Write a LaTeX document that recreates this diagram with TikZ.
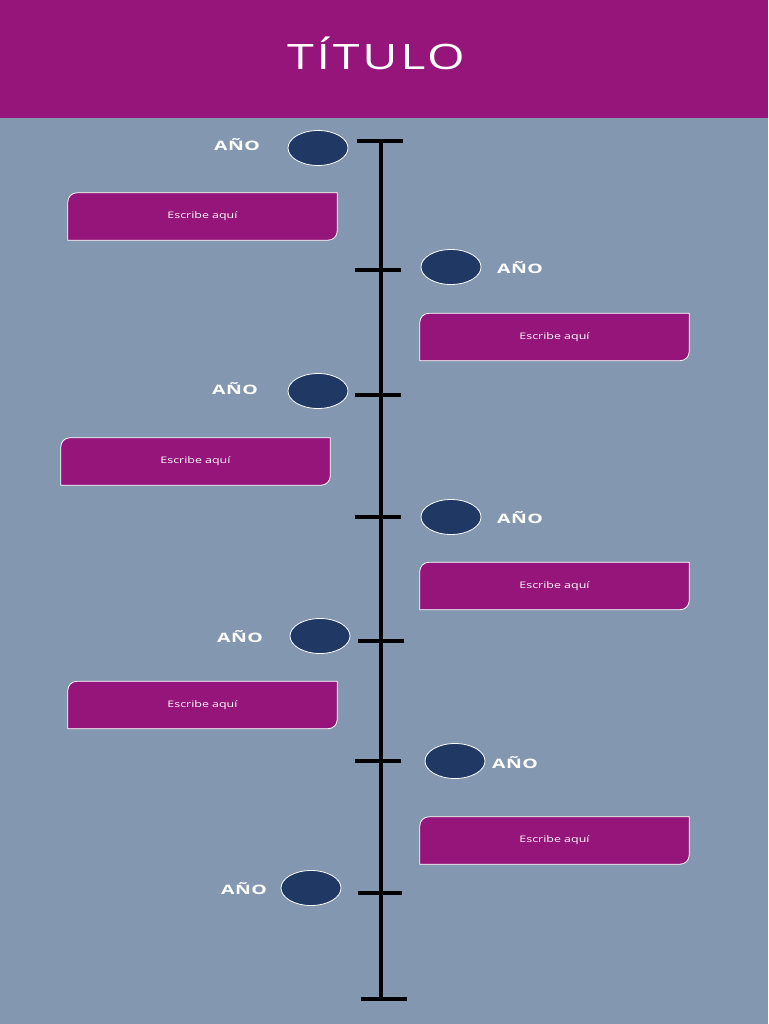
\documentclass[tikz,border=0pt]{standalone}
\usepackage{fontspec}
\setmainfont{Open Sans}
\usetikzlibrary{shapes.geometric,backgrounds}
\definecolor{magenta}{HTML}{95157A}
\definecolor{bluebg}{HTML}{8397B0}
\definecolor{navy}{HTML}{1F3864}
\tikzset{
  yearball/.style={ellipse,fill=navy,draw=white,line width=0.8pt,minimum width=60pt,minimum height=35pt,inner sep=0pt},
  yearlabel/.style={text=white,font=\fontsize{13}{15}\selectfont\bfseries\addfontfeature{FakeStretch=1.5,LetterSpace=3}},
  infobox/.style={minimum width=269pt,minimum height=47pt,inner sep=0pt,text=white,font=\fontsize{9}{10}\selectfont\addfontfeature{FakeStretch=1.38}},
  boxshape/.style={fill=magenta,draw=white,line width=0.8pt},
  axis/.style={line width=4pt,black},
  tick/.style={line width=3.5pt,black},
}
\newcommand{\boxpath}[1]{%
  \draw[boxshape] (#1.south west) -- ([yshift=-9pt]#1.north west) arc[start angle=180,end angle=90,radius=9pt] -- (#1.north east) -- ([yshift=9pt]#1.south east) arc[start angle=0,end angle=-90,radius=9pt] -- cycle;}
\begin{document}
\begin{tikzpicture}[x=1pt,y=1pt]
\useasboundingbox (0,0) rectangle (768,-1024);
\begin{scope}[on background layer]
  \fill[bluebg] (0,-118) rectangle (768,-1024);
  \fill[magenta] (0,0) rectangle (768,-118);
\end{scope}
\node[text=white,font=\fontsize{35}{40}\selectfont\addfontfeature{FakeStretch=1.38,LetterSpace=8}] (title) at (376,-53) {TÍTULO};

% axis
\coordinate (top) at (381,-141);
\coordinate (bot) at (381,-999);
\draw[axis] (top) -- (bot);
\draw[tick] ([xshift=-24pt]top) -- ([xshift=22pt]top);
\draw[tick] ([xshift=-20pt]bot) -- ([xshift=26pt]bot);
\foreach \y/\a/\b in {270/26/20, 395/26/20, 517/26/20, 641/23/23, 761/26/20, 893/23/21}{
  \coordinate (t) at (381,-\y);
  \draw[tick] ([xshift=-\a pt]t) -- ([xshift=\b pt]t);
}

% years
\node[yearball] (c1) at (318,-148) {};
\node[yearlabel] (y1) at (237,-145) {AÑO};
\node[yearball] (c2) at (451,-267) {};
\node[yearlabel] (y2) at (520,-268) {AÑO};
\node[yearball] (c3) at (318,-391) {};
\node[yearlabel] (y3) at (235,-389) {AÑO};
\node[yearball] (c4) at (451,-517) {};
\node[yearlabel] (y4) at (520,-518) {AÑO};
\node[yearball] (c5) at (320,-636) {};
\node[yearlabel] (y5) at (240,-637) {AÑO};
\node[yearball] (c6) at (455,-761) {};
\node[yearlabel] (y6) at (515,-763) {AÑO};
\node[yearball] (c7) at (311,-888) {};
\node[yearlabel] (y7) at (244,-889) {AÑO};

% boxes
\node[infobox] (b1) at (202.5,-216.5) {Escribe aquí};
\node[infobox] (b2) at (554.5,-337) {Escribe aquí};
\node[infobox] (b3) at (195.5,-461.5) {Escribe aquí};
\node[infobox] (b4) at (554.5,-586) {Escribe aquí};
\node[infobox] (b5) at (202.5,-705) {Escribe aquí};
\node[infobox] (b6) at (554.5,-840.5) {Escribe aquí};
\begin{scope}[on background layer]
  \foreach \b in {b1,b2,b3,b4,b5,b6}{\boxpath{\b}}
\end{scope}
\end{tikzpicture}
\end{document}
